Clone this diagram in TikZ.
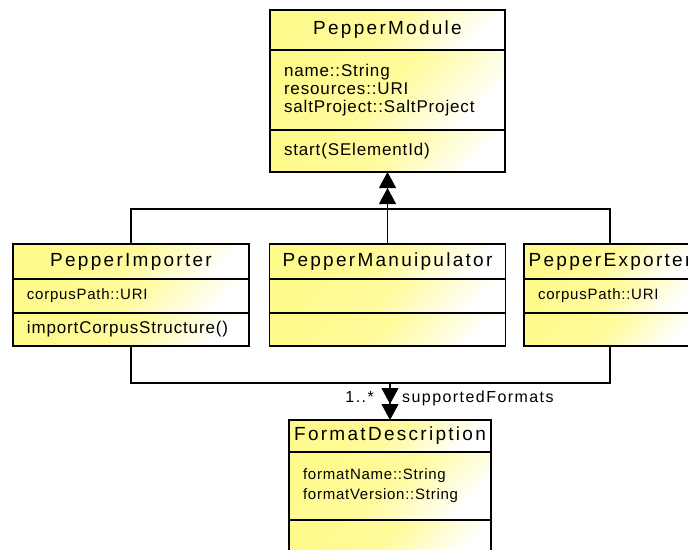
\documentclass[tikz,border=0pt]{standalone}
\usepackage{fontspec}
\newfontfamily\headfont[LetterSpace=12]{Liberation Sans}
\newfontfamily\featfont[LetterSpace=5]{Liberation Sans}
\newfontfamily\rolefont[LetterSpace=9]{Liberation Sans}
\usetikzlibrary{arrows.meta, positioning}
\definecolor{umlyellow}{RGB}{255,250,140}

\begin{document}
\begin{tikzpicture}[
    x=1pt, y=-1pt,
    compart/.style={draw, line width=1.1pt, outer sep=0pt, inner ysep=0pt,
        top color=umlyellow, bottom color=white, middle color=umlyellow!85!white, shading angle=45},
    head/.style={compart, inner xsep=2pt, font=\headfont\fontsize{19}{22}\selectfont},
    feat/.style={compart, align=left, inner xsep=14pt, font=\featfont\fontsize{17}{18}\selectfont},
    smallfeat/.style={feat, font=\featfont\fontsize{15}{20}\selectfont},
    inherit/.style={-{Triangle[length=16pt,width=17pt]Triangle[length=16pt,width=17pt]}, line width=1.1pt},
    link/.style={line width=1.1pt},
    role/.style={font=\rolefont\fontsize{16}{18}\selectfont, inner sep=0pt}
]
\useasboundingbox (0,0) rectangle (688,549);

% PepperModule (oben)
\node[head, minimum width=235pt, minimum height=40pt, anchor=north] (mod) at (387.5,10) {PepperModule};
\node[feat, text width=207pt, minimum height=80pt, below=0pt of mod] (mod-attr) {name::String\\resources::URI\\saltProject::SaltProject};
\node[feat, text width=207pt, minimum height=42pt, below=0pt of mod-attr] (mod-op) {start(SElementId)};

% PepperImporter (links)
\node[head, minimum width=236pt, minimum height=35pt, anchor=north] (imp) at (131,244) {PepperImporter};
\node[smallfeat, text width=208pt, minimum height=34pt, below=0pt of imp] (imp-attr) {corpusPath::URI};
\node[feat, text width=208pt, minimum height=33pt, below=0pt of imp-attr] (imp-op) {\mbox{importCorpusStructure()}};

% PepperManuipulator (mitte)
\node[head, minimum width=236pt, minimum height=35pt, anchor=north] (man) at (387.5,244) {PepperManuipulator};
\node[feat, text width=208pt, minimum height=34pt, below=0pt of man] (man-attr) {};
\node[feat, text width=208pt, minimum height=33pt, below=0pt of man-attr] (man-op) {};

% PepperExporter (rechts)
\node[head, minimum width=172pt, minimum height=35pt, anchor=north] (exp) at (610,244) {PepperExporter};
\node[smallfeat, text width=144pt, minimum height=34pt, below=0pt of exp] (exp-attr) {corpusPath::URI};
\node[feat, text width=144pt, minimum height=33pt, below=0pt of exp-attr] (exp-op) {};

% FormatDescription (unten)
\node[head, minimum width=202pt, minimum height=32pt, anchor=north] (fmt) at (390,420) {FormatDescription};
\node[smallfeat, text width=174pt, minimum height=68pt, below=0pt of fmt] (fmt-attr) {formatName::String\\formatVersion::String};
\node[feat, text width=174pt, minimum height=36pt, below=0pt of fmt-attr] (fmt-op) {};

% Vererbung
\coordinate (genjoin) at (387.5,209);
\draw[link] (imp.north) |- (genjoin);
\draw[link] (exp.north) |- (genjoin);
\draw[inherit] (man.north) -- (mod-op.south);

% Assoziation
\coordinate (assocjoin) at (390,383);
\draw[link] (imp-op.south) |- (assocjoin);
\draw[link] (exp-op.south) |- (assocjoin);
\draw[inherit] (assocjoin) -- (fmt.north);
\node[role, anchor=base east] (mult) at (374,402) {1..*};
\node[role, anchor=base west] (rolename) at (402,402) {supportedFormats};
\end{tikzpicture}
\end{document}
